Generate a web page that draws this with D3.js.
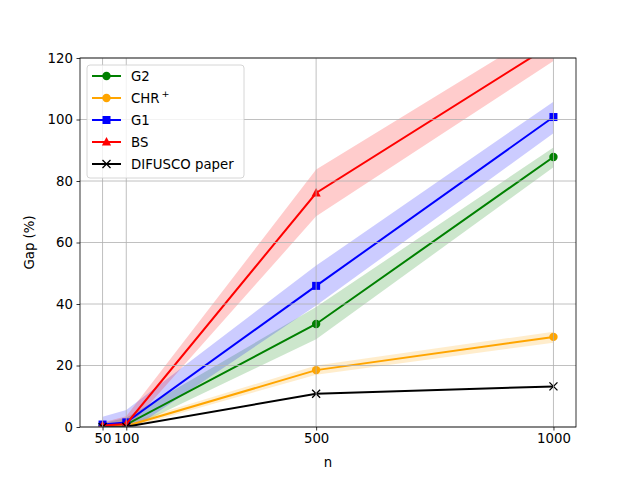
<!DOCTYPE html>
<html lang='en'>
<head>
<meta charset='utf-8'/>
<title>Gap vs n</title>
<script src='https://cdn.jsdelivr.net/npm/d3@7'></script>
<style>
  body { margin: 0; background: #fff; }
  text { font-family: 'DejaVu Sans', sans-serif; }
</style>
</head>
<body>
<script>
'use strict'
// data
const ns = [50, 100, 500, 1000]
const xTicks = [50, 100, 500, 1000]
const yTicks = [0, 20, 40, 60, 80, 100, 120]

const g2 = [0.3, 0.8, 33.5, 87.8]
const g2Lo = [-0.5, -1.0, 28.5, 84.5]
const g2Hi = [1.2, 3.0, 39.0, 90.9]

const chr = [0.1, 0.3, 18.5, 29.3]
const chrLo = [-0.3, -0.5, 17.0, 27.4]
const chrHi = [0.5, 1.2, 20.0, 31.0]

const g1 = [0.8, 1.5, 45.9, 100.8]
const g1Lo = [-1.5, -2.0, 39.5, 95.5]
const g1Hi = [3.3, 5.5, 52.5, 105.8]

const bs = [0.5, 1.0, 76.1, 124.7]
const bsLo = [-0.5, -1.0, 68.5, 119.0]
const bsHi = [1.5, 3.5, 83.7, 131.0]

const difusco = [0.0, 0.1, 10.8, 13.2]

const series = [
  {name: 'G2', color: '#008000', marker: 'circle', y: g2, lo: g2Lo, hi: g2Hi},
  {name: 'CHR', sup: '+', color: '#ffa500', marker: 'circle', y: chr, lo: chrLo, hi: chrHi},
  {name: 'G1', color: '#0000ff', marker: 'square', y: g1, lo: g1Lo, hi: g1Hi},
  {name: 'BS', color: '#ff0000', marker: 'triangle', y: bs, lo: bsLo, hi: bsHi},
  {name: 'DIFUSCO paper', color: '#000000', marker: 'x', y: difusco}
]

const W = 640, H = 480
const plot = {left: 80, right: 576, top: 58, bottom: 427}

const x = d3.scaleLinear().domain([2.5, 1047.5]).range([plot.left, plot.right])
const y = d3.scaleLinear().domain([0, 120]).range([plot.bottom, plot.top])

const svg = d3.select('body').append('svg')
  .attr('width', W).attr('height', H)

svg.append('rect').attr('width', W).attr('height', H).attr('fill', '#fff')

svg.append('clipPath').attr('id', 'clip')
  .append('rect')
  .attr('x', plot.left).attr('y', plot.top)
  .attr('width', plot.right - plot.left).attr('height', plot.bottom - plot.top)

const body = svg.append('g').attr('clip-path', 'url(#clip)')

// bands
const area = d3.area()
  .x((d, i) => x(ns[i]))
  .y0(d => y(d[0]))
  .y1(d => y(d[1]))

series.filter(s => s.lo).forEach(s => {
  body.append('path')
    .attr('d', area(s.lo.map((v, i) => [v, s.hi[i]])))
    .attr('fill', s.color)
    .attr('fill-opacity', 0.2)
})

// grid
const grid = svg.append('g')
grid.selectAll('.vx').data(xTicks).join('line')
  .attr('x1', d => x(d)).attr('x2', d => x(d))
  .attr('y1', plot.top).attr('y2', plot.bottom)
  .attr('stroke', '#b0b0b0').attr('stroke-width', 0.8)
grid.selectAll('.hy').data(yTicks).join('line')
  .attr('x1', plot.left).attr('x2', plot.right)
  .attr('y1', d => y(d)).attr('y2', d => y(d))
  .attr('stroke', '#b0b0b0').attr('stroke-width', 0.8)

// lines + markers
const line = d3.line()
  .x((d, i) => x(ns[i]))
  .y(d => y(d))

function drawMarker(g, type, color, cx, cy) {
  if (type === 'circle') {
    g.append('circle').attr('cx', cx).attr('cy', cy).attr('r', 4.2).attr('fill', color)
  } else if (type === 'square') {
    g.append('rect').attr('x', cx - 4).attr('y', cy - 4).attr('width', 8).attr('height', 8).attr('fill', color)
  } else if (type === 'triangle') {
    g.append('path').attr('d', `M${cx},${cy - 5}L${cx + 4.6},${cy + 3.5}L${cx - 4.6},${cy + 3.5}Z`).attr('fill', color)
  } else {
    g.append('path').attr('d', `M${cx - 4},${cy - 4}L${cx + 4},${cy + 4}M${cx - 4},${cy + 4}L${cx + 4},${cy - 4}`)
      .attr('stroke', color).attr('stroke-width', 1.3)
  }
}

series.forEach(s => {
  body.append('path')
    .attr('d', line(s.y))
    .attr('fill', 'none')
    .attr('stroke', s.color)
    .attr('stroke-width', 2)
  const mg = body.append('g')
  s.y.forEach((v, i) => drawMarker(mg, s.marker, s.color, x(ns[i]), y(v)))
})

// axes
const xAxis = svg.append('g').attr('transform', `translate(0,${plot.bottom})`)
  .call(d3.axisBottom(x).tickValues(xTicks).tickFormat(d3.format('d')).tickSize(3.5).tickPadding(3.5))
const yAxis = svg.append('g').attr('transform', `translate(${plot.left},0)`)
  .call(d3.axisLeft(y).tickValues(yTicks).tickFormat(d3.format('d')).tickSize(3.5).tickPadding(3.5))
;[xAxis, yAxis].forEach(a => {
  a.select('.domain').remove()
  a.selectAll('line').attr('stroke', '#000').attr('stroke-width', 0.8)
  a.selectAll('text').attr('font-size', 13.3).attr('fill', '#000')
    .style('font-family', "'DejaVu Sans', sans-serif")
})

svg.append('rect')
  .attr('x', plot.left).attr('y', plot.top)
  .attr('width', plot.right - plot.left).attr('height', plot.bottom - plot.top)
  .attr('fill', 'none').attr('stroke', '#000').attr('stroke-width', 0.8)

svg.append('text').attr('x', (plot.left + plot.right) / 2).attr('y', 467)
  .attr('text-anchor', 'middle').attr('font-size', 13.3).text('n')
svg.append('text')
  .attr('transform', `translate(34,${(plot.top + plot.bottom) / 2}) rotate(-90)`)
  .attr('text-anchor', 'middle').attr('font-size', 13.3).text('Gap (%)')

// legend
const lg = svg.append('g')
lg.append('rect').attr('x', 87).attr('y', 65).attr('width', 157).attr('height', 113)
  .attr('rx', 3).attr('fill', '#fff').attr('fill-opacity', 0.8)
  .attr('stroke', '#cccccc').attr('stroke-width', 0.8)
series.forEach((s, i) => {
  const cy = 76 + i * 22
  lg.append('line').attr('x1', 92).attr('x2', 121).attr('y1', cy).attr('y2', cy)
    .attr('stroke', s.color).attr('stroke-width', 2)
  drawMarker(lg, s.marker, s.color, 106.5, cy)
  const t = lg.append('text').attr('x', 131).attr('y', cy + 5).attr('font-size', 13.3).text(s.name)
  if (s.sup) {
    t.append('tspan').attr('dy', -6).attr('dx', 2).attr('font-size', 9.5).text(s.sup)
  }
})
</script>
</body>
</html>
